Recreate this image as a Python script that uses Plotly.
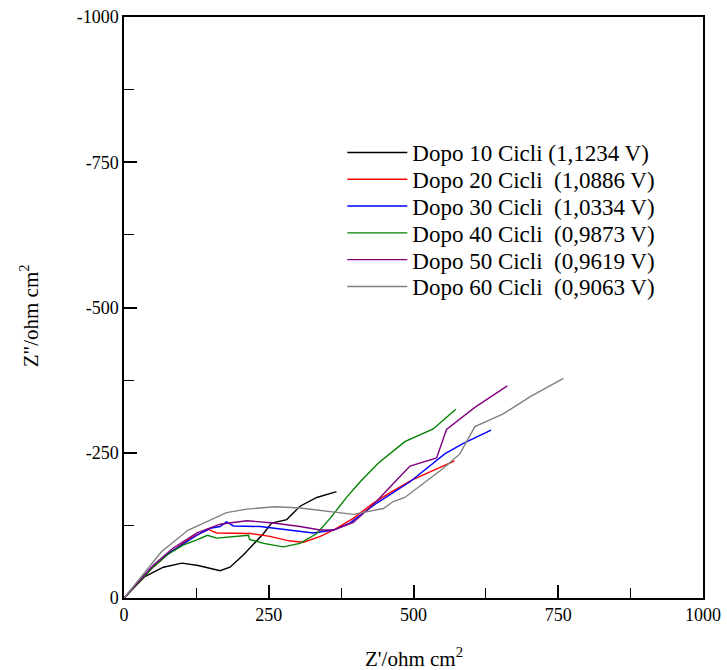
import plotly.graph_objects as go

names = [
    "Dopo 10 Cicli (1,1234 V)",
    "Dopo 20 Cicli \u00a0(1,0886 V)",
    "Dopo 30 Cicli \u00a0(1,0334 V)",
    "Dopo 40 Cicli \u00a0(0,9873 V)",
    "Dopo 50 Cicli \u00a0(0,9619 V)",
    "Dopo 60 Cicli \u00a0(0,9063 V)",
]
colors = ["#000000", "#ff0000", "#0000ff", "#008000", "#800080", "#808080"]

tick_vals = [0, 250, 500, 750, 1000]
x_tick_text = ["0", "250", "500", "750", "1000"]
y_tick_vals = [0, -250, -500, -750, -1000]
y_tick_text = ["0", "-250", "-500", "-750", "-1000"]
x_title = "Z'/ohm cm<sup>2</sup>"
y_title = 'Z"/ohm cm<sup>2</sup>'

x10 = [0, 36, 68, 100, 128, 166, 183, 206, 241, 255, 281, 304, 333, 367]
y10 = [0, -37, -53, -60, -56, -47, -53, -74, -111, -129, -135, -158, -173, -183]

x20 = [0, 45, 74, 114, 146, 160, 218, 252, 287, 310, 339, 364, 396, 430, 459, 497, 571]
y20 = [0, -48, -74, -103, -118, -112, -111, -106, -98, -96, -106, -118, -137, -163, -181, -203, -236]

x30 = [0, 45, 79, 126, 149, 166, 177, 189, 235, 281, 327, 362, 390, 436, 494, 554, 586, 634]
y30 = [0, -50, -78, -108, -120, -123, -131, -124, -123, -117, -112, -117, -129, -163, -200, -248, -266, -289]

x40 = [0, 51, 74, 102, 126, 144, 160, 215, 217, 241, 275, 304, 333, 356, 385, 408, 439, 485, 534, 573]
y40 = [0, -54, -74, -91, -100, -108, -103, -108, -101, -94, -88, -94, -111, -137, -174, -200, -232, -269, -291, -325]

x50 = [0, 51, 85, 126, 166, 212, 258, 304, 339, 362, 396, 436, 468, 494, 540, 557, 606, 662]
y50 = [0, -57, -86, -112, -127, -133, -129, -123, -117, -117, -130, -166, -200, -227, -241, -290, -328, -365]

x60 = [0, 65, 111, 137, 177, 212, 261, 304, 350, 396, 448, 465, 485, 506, 551, 580, 606, 655, 701, 759]
y60 = [0, -80, -117, -129, -147, -153, -157, -155, -150, -144, -154, -166, -173, -189, -223, -248, -295, -317, -346, -378]

xs = [x10, x20, x30, x40, x50, x60]
ys = [y10, y20, y30, y40, y50, y60]

font = "Liberation Serif"
W, H = 727, 670
ML, MR, MT, MB = 124, 24, 17, 72
plot_h = H - MT - MB

fig = go.Figure()
legend_layout = {}
for i, (n, c, x, y) in enumerate(zip(names, colors, xs, ys)):
    key = "legend" if i == 0 else f"legend{i + 1}"
    fig.add_trace(go.Scatter(x=x, y=y, name=n, mode="lines",
                             line=dict(color=c, width=1.4), legend=key))
    row_center_px = 152.5 + 26.8 * i
    legend_layout[key] = dict(
        x=0.377, y=(H - MB - row_center_px) / plot_h,
        xanchor="left", yanchor="middle",
        font=dict(family=font, size=23, color="black"),
        bgcolor="rgba(0,0,0,0)", itemwidth=60,
    )

axis_common = dict(
    showline=True, linecolor="black", linewidth=1.5, mirror=True,
    ticks="inside", ticklen=13, tickcolor="black", tickwidth=1.5,
    showgrid=False, zeroline=False, automargin=False,
    tickfont=dict(family=font, size=18, color="black"),
    minor=dict(ticks="inside", ticklen=10, tickcolor="black", dtick=125, tick0=0, tickwidth=1),
)

fig.update_xaxes(range=[0, 1000], tickmode="array", tickvals=tick_vals, ticktext=x_tick_text,
                 **axis_common)
fig.update_yaxes(range=[0, -1000], tickmode="array", tickvals=y_tick_vals, ticktext=y_tick_text,
                 **axis_common)

fig.add_annotation(text=x_title, xref="paper", yref="paper", x=0.5, y=0,
                   xanchor="center", yanchor="middle", yshift=-59, showarrow=False,
                   font=dict(family=font, size=21, color="black"))
fig.add_annotation(text=y_title, xref="paper", yref="paper", x=0, y=0.485,
                   xanchor="center", yanchor="middle", xshift=-95, textangle=-90, showarrow=False,
                   font=dict(family=font, size=21, color="black"))

fig.update_layout(
    width=W, height=H,
    margin=dict(l=ML, r=MR, t=MT, b=MB),
    plot_bgcolor="white", paper_bgcolor="white",
    font=dict(family=font, color="black"),
    showlegend=True,
    **legend_layout,
)

fig.write_html("out.html")
